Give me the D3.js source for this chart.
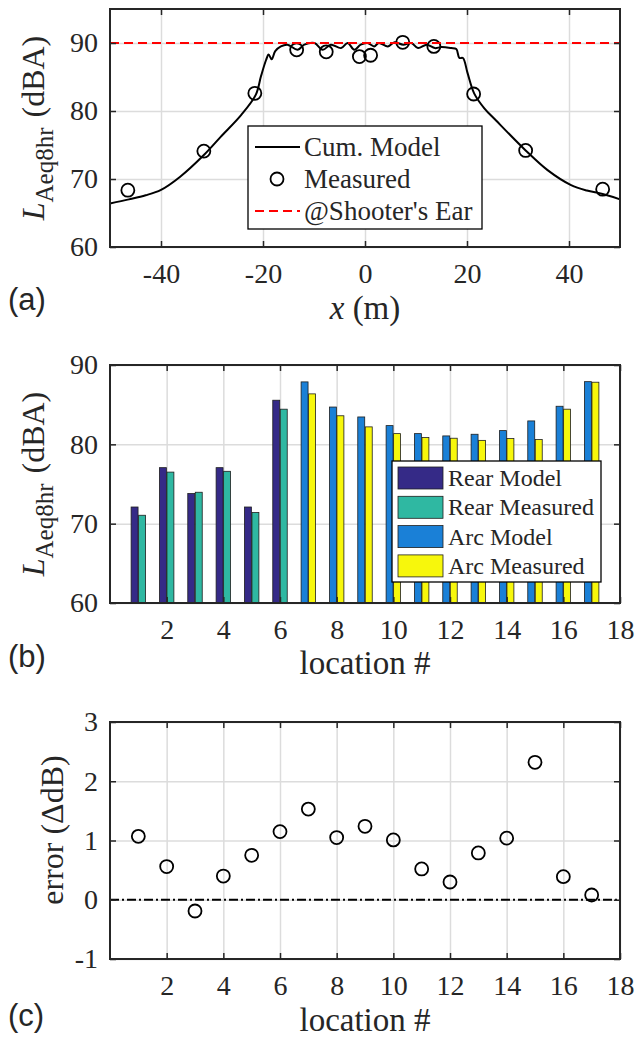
<!DOCTYPE html>
<html>
<head>
<meta charset="utf-8">
<script src="https://cdn.jsdelivr.net/npm/d3@7"></script>
<style>
  body { margin: 0; background: #fff; }
  svg text { font-family: "Liberation Serif", "Times New Roman", serif; fill: #262626; }
</style>
</head>
<body>
<div id="chart"></div>
<script>
// three stacked panels, same x extent
var svgWidth = 636;
var svgHeight = 1040;
var plotLeft = 110;
var plotRight = 620;

// (a) cumulative model vs measured along x
var modelX = [-50, -46.3, -43, -40, -36.3, -31.5, -28.3, -24.3, -21.4, -20.4, -19.4, -18.9, -18.3, -17.6, -16.5,
    -15.2, -13.2, -11.9, -9.9, -8.3, -6.7, -4.7, -3.4, -2.1, -0.85, 0.5, 1.8, 2.7, 4.5, 5.8, 7.5, 9.1, 10.4, 12.1,
    13.7, 15.0, 16.9, 17.9, 18.5, 19.2, 20.1, 21.4, 23.4, 25.7, 31.5, 35.8, 40.4, 43.5, 46.6, 50];
var modelY = [66.4, 67.0, 67.6, 68.4, 70.3, 73.6, 76.2, 79.4, 82.4, 85.1, 87.5, 88.3, 87.6, 88.8, 89.5,
    89.75, 89.0, 89.75, 90.0, 89.0, 89.75, 89.25, 90.0, 89.0, 89.75, 90.0, 89.5, 90.0, 89.5, 90.1, 89.75, 90.0, 89.25, 89.75,
    89.25, 89.4, 89.25, 89.1, 87.8, 87.8, 85.6, 82.6, 80.4, 78.6, 74.2, 71.3, 69.1, 68.3, 67.8, 67.0];
var measX = [-46.5, -31.6, -21.6, -13.4, -7.6, -1.1, 1.1, 7.4, 13.5, 21.3, 31.5, 46.6];
var measY = [68.35, 74.1, 82.6, 89.0, 88.7, 88.0, 88.2, 90.1, 89.5, 82.5, 74.2, 68.5];
var shooterEar = 90;
var xTicksA = [-40, -20, 0, 20, 40];
var yTicksA = [60, 70, 80, 90];

// (b) levels per location
var rearLoc = [1, 2, 3, 4, 5, 6];
var rearModel = [72.1, 77.06, 73.8, 77.06, 72.1, 85.56];
var rearMeasured = [71.06, 76.5, 73.96, 76.6, 71.4, 84.43];
var arcLoc = [7, 8, 9, 10, 11, 12, 13, 14, 15, 16, 17];
var arcModel = [87.87, 84.7, 83.45, 82.36, 81.35, 81.06, 81.27, 81.73, 82.95, 84.8, 87.9];
var arcMeasured = [86.36, 83.6, 82.2, 81.35, 80.85, 80.77, 80.5, 80.73, 80.6, 84.43, 87.83];
var locTicks = [2, 4, 6, 8, 10, 12, 14, 16, 18];
var yTicksB = [60, 70, 80, 90];

// (c) model - measured error
var errLoc = [1, 2, 3, 4, 5, 6, 7, 8, 9, 10, 11, 12, 13, 14, 15, 16, 17];
var errVals = [1.07, 0.56, -0.19, 0.40, 0.75, 1.15, 1.53, 1.05, 1.24, 1.01, 0.52, 0.30, 0.79, 1.04, 2.32, 0.39, 0.08];
var yTicksC = [-1, 0, 1, 2, 3];

var colors = {
    rearModel: "#352a87",
    rearMeasured: "#2fb8a2",
    arcModel: "#1a80d7",
    arcMeasured: "#f7f70c"
};

var serif = '"Liberation Serif", "Times New Roman", serif';

var svg = d3.select("#chart")
    .append("svg")
    .attr("width", svgWidth)
    .attr("height", svgHeight);

// light grid for one panel
function drawFrame(g, x, y, xTicks, yTicks, top, bottom) {
    var h = bottom - top;
    var w = plotRight - plotLeft;
    g.append("g")
        .attr("transform", `translate(0,${bottom})`)
        .call(d3.axisBottom(x).tickValues(xTicks).tickSize(-h).tickFormat(""))
        .call(a => a.select(".domain").remove())
        .selectAll("line").attr("stroke", "#dcdcdc").attr("stroke-width", 1.5);
    g.append("g")
        .attr("transform", `translate(${plotLeft},0)`)
        .call(d3.axisLeft(y).tickValues(yTicks).tickSize(-w).tickFormat(""))
        .call(a => a.select(".domain").remove())
        .selectAll("line").attr("stroke", "#dcdcdc").attr("stroke-width", 1.5);
}

// inner ticks on all four sides, labels bottom/left, black box
function drawAxes(g, x, y, xTicks, yTicks, top, bottom) {
    var fmt = d => String(d);   // plain hyphen like the original
    var ax = g.append("g");
    var bx = ax.append("g")
        .attr("transform", `translate(0,${bottom})`)
        .call(d3.axisBottom(x).tickValues(xTicks).tickSize(-6).tickPadding(16).tickFormat(fmt));
    var ly = ax.append("g")
        .attr("transform", `translate(${plotLeft},0)`)
        .call(d3.axisLeft(y).tickValues(yTicks).tickSize(-6).tickPadding(12).tickFormat(fmt));
    ax.append("g")
        .attr("transform", `translate(0,${top})`)
        .call(d3.axisTop(x).tickValues(xTicks).tickSize(-6).tickFormat(""));
    ax.append("g")
        .attr("transform", `translate(${plotRight},0)`)
        .call(d3.axisRight(y).tickValues(yTicks).tickSize(-6).tickFormat(""));
    ax.selectAll(".domain").remove();
    ax.selectAll(".tick line").attr("stroke", "#262626").attr("stroke-width", 1.5);
    ax.selectAll("g").attr("font-family", serif).attr("font-size", 28);
    ax.selectAll("text")
        .attr("font-family", serif)
        .attr("font-size", 28)
        .style("font-family", serif)
        .style("font-size", "28px")
        .attr("fill", "#262626");
    ax.append("rect")
        .attr("x", plotLeft).attr("y", top)
        .attr("width", plotRight - plotLeft).attr("height", bottom - top)
        .attr("fill", "none").attr("stroke", "#262626").attr("stroke-width", 2);
}

function panelTag(label, yBase) {
    svg.append("text")
        .attr("x", 8).attr("y", yBase)
        .style("font-family", '"Liberation Sans", Arial, sans-serif')
        .style("font-size", "31px")
        .attr("fill", "#111")
        .text(label);
}

function levelLabel(cy) {
    var t = svg.append("text")
        .attr("transform", `translate(44,${cy}) rotate(-90)`)
        .attr("text-anchor", "middle")
        .style("font-size", "32px");
    t.append("tspan").style("font-style", "italic").text("L");
    t.append("tspan").attr("dy", 9).style("font-size", "25px").text("Aeq8hr");
    t.append("tspan").attr("dy", -9).attr("dx", 10).text("(dBA)");
}

//------------------ panel (a)
var topA = 9, botA = 247;
var xA = d3.scaleLinear().domain([-50, 50]).range([plotLeft, plotRight]);
var yA = d3.scaleLinear().domain([60, 95]).range([botA, topA]);
var gA = svg.append("g");
drawFrame(gA, xA, yA, xTicksA, yTicksA, topA, botA);

var modelLine = d3.line()
    .x(d => xA(d[0]))
    .y(d => yA(d[1]))
    .curve(d3.curveCatmullRom.alpha(0.5));
gA.append("path")
    .datum(modelX.map((v, i) => [v, modelY[i]]))
    .attr("d", modelLine)
    .attr("fill", "none")
    .attr("stroke", "#000")
    .attr("stroke-width", 2);

gA.selectAll("circle.meas")
    .data(measX)
    .enter()
    .append("circle")
    .attr("class", "meas")
    .attr("cx", d => xA(d))
    .attr("cy", (d, i) => yA(measY[i]))
    .attr("r", 6.5)
    .attr("fill", "none")
    .attr("stroke", "#000")
    .attr("stroke-width", 1.8);

gA.append("line")
    .attr("x1", plotLeft).attr("x2", plotRight)
    .attr("y1", yA(shooterEar)).attr("y2", yA(shooterEar))
    .attr("stroke", "#ff0000")
    .attr("stroke-width", 2.2)
    .attr("stroke-dasharray", "9,5");

drawAxes(gA, xA, yA, xTicksA, yTicksA, topA, botA);

// legend (a)
var legA = svg.append("g").attr("transform", "translate(248,126)");
legA.append("rect").attr("width", 234).attr("height", 103)
    .attr("fill", "#fff").attr("stroke", "#000").attr("stroke-width", 1.3);
legA.append("line").attr("x1", 7).attr("x2", 52).attr("y1", 21).attr("y2", 21)
    .attr("stroke", "#000").attr("stroke-width", 2);
legA.append("circle").attr("cx", 29).attr("cy", 53).attr("r", 6.5)
    .attr("fill", "none").attr("stroke", "#000").attr("stroke-width", 1.8);
legA.append("line").attr("x1", 7).attr("x2", 52).attr("y1", 85).attr("y2", 85)
    .attr("stroke", "#ff0000").attr("stroke-width", 2.2).attr("stroke-dasharray", "9,5");
["Cum. Model", "Measured", "@Shooter's Ear"].forEach(function (s, i) {
    legA.append("text").attr("x", 56).attr("y", 21 + i * 32 + 9)
        .style("font-size", "27px").attr("fill", "#111").text(s);
});

levelLabel((topA + botA) / 2);
var xl = svg.append("text")
    .attr("x", (plotLeft + plotRight) / 2).attr("y", 319)
    .attr("text-anchor", "middle")
    .style("font-size", "33px");
xl.append("tspan").style("font-style", "italic").text("x");
xl.append("tspan").text(" (m)");
panelTag("(a)", 310);

//------------------ panel (b)
var topB = 365, botB = 603;
var xB = d3.scaleLinear().domain([0, 18]).range([plotLeft, plotRight]);
var yB = d3.scaleLinear().domain([60, 90]).range([botB, topB]);
var gB = svg.append("g");
drawFrame(gB, xB, yB, locTicks, yTicksB, topB, botB);

var barW = 0.245;
function bars(locs, vals, side, color) {
    gB.append("g").selectAll("rect")
        .data(vals)
        .enter()
        .append("rect")
        .attr("x", (d, i) => side < 0 ? xB(locs[i] - barW - 0.01) : xB(locs[i] + 0.01))
        .attr("width", xB(barW) - xB(0))
        .attr("y", d => yB(d))
        .attr("height", d => yB(60) - yB(d))
        .attr("fill", color)
        .attr("stroke", "#1e1e1e")
        .attr("stroke-width", 0.8);
}
bars(rearLoc, rearModel, -1, colors.rearModel);
bars(rearLoc, rearMeasured, 1, colors.rearMeasured);
bars(arcLoc, arcModel, -1, colors.arcModel);
bars(arcLoc, arcMeasured, 1, colors.arcMeasured);

drawAxes(gB, xB, yB, locTicks, yTicksB, topB, botB);

// legend (b)
var legB = svg.append("g").attr("transform", "translate(392,461)");
legB.append("rect").attr("width", 209).attr("height", 121)
    .attr("fill", "#fff").attr("stroke", "#000").attr("stroke-width", 1.3);
var legItems = [["Rear Model", colors.rearModel], ["Rear Measured", colors.rearMeasured],
    ["Arc Model", colors.arcModel], ["Arc Measured", colors.arcMeasured]];
legItems.forEach(function (it, i) {
    var cy = 17 + i * 29.3;
    legB.append("rect").attr("x", 6).attr("y", cy - 11).attr("width", 45).attr("height", 22)
        .attr("fill", it[1]).attr("stroke", "#1e1e1e").attr("stroke-width", 0.8);
    legB.append("text").attr("x", 56).attr("y", cy + 8)
        .style("font-size", "24px").attr("fill", "#111").text(it[0]);
});

levelLabel((topB + botB) / 2);
svg.append("text")
    .attr("x", (plotLeft + plotRight) / 2).attr("y", 674)
    .attr("text-anchor", "middle")
    .style("font-size", "33px")
    .text("location #");
panelTag("(b)", 667);

//------------------ panel (c)
var topC = 722, botC = 959;
var xC = d3.scaleLinear().domain([0, 18]).range([plotLeft, plotRight]);
var yC = d3.scaleLinear().domain([-1, 3]).range([botC, topC]);
var gC = svg.append("g");
drawFrame(gC, xC, yC, locTicks, yTicksC, topC, botC);

gC.append("line")
    .attr("x1", plotLeft).attr("x2", plotRight)
    .attr("y1", yC(0)).attr("y2", yC(0))
    .attr("stroke", "#000")
    .attr("stroke-width", 1.8)
    .attr("stroke-dasharray", "9,3,2,3");

gC.selectAll("circle")
    .data(errVals)
    .enter()
    .append("circle")
    .attr("cx", (d, i) => xC(errLoc[i]))
    .attr("cy", d => yC(d))
    .attr("r", 6.5)
    .attr("fill", "none")
    .attr("stroke", "#000")
    .attr("stroke-width", 1.8);

drawAxes(gC, xC, yC, locTicks, yTicksC, topC, botC);

svg.append("text")
    .attr("transform", `translate(63,830) rotate(-90)`)
    .attr("text-anchor", "middle")
    .style("font-size", "32px")
    .text("error (\u0394dB)");
svg.append("text")
    .attr("x", (plotLeft + plotRight) / 2).attr("y", 1031)
    .attr("text-anchor", "middle")
    .style("font-size", "33px")
    .text("location #");
panelTag("(c)", 1026);
</script>
</body>
</html>
